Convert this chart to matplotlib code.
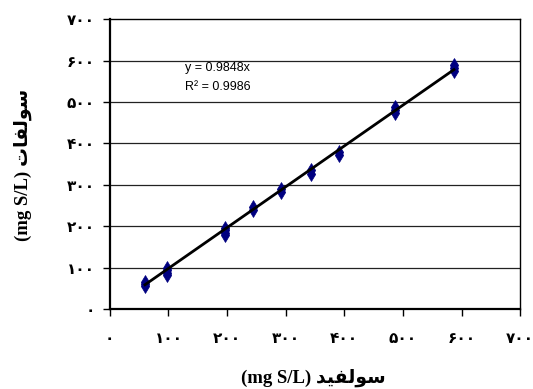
import matplotlib
matplotlib.use("Agg")
import matplotlib.pyplot as plt
import numpy as np

# Data (sulfide vs sulfate, mg S/L)
sulfide = [60, 60, 60, 97, 97, 97, 97, 196, 196, 196, 196, 244, 244,
           292, 292, 343, 343, 391, 391, 487, 487, 487, 587, 587, 587]
sulfate = [55, 60, 66, 82, 88, 95, 100, 178, 185, 192, 197, 240, 246,
           283, 289, 327, 335, 371, 379, 473, 480, 488, 575, 582, 588]
slope = 0.9848
r2 = 0.9986
tick_vals = [0, 100, 200, 300, 400, 500, 600, 700]

def fa_digits(n):
    return "".join(chr(0x06F0 + int(c)) for c in str(n))

tick_labels = [fa_digits(v) for v in tick_vals]

# Persian words written in visual order with presentation forms
xlabel_text = "(mg S/L) " + "\uFEAA\uFEF4\uFED4\uFEDF\uFEEE\uFEB3"   # سولفید
ylabel_text = "(mg S/L) " + "\uFE95\uFE8E\uFED4\uFEDF\uFEEE\uFEB3"   # سولفات

fig = plt.figure(figsize=(5.33, 3.89), dpi=100)
ax = fig.add_axes([0.206, 0.205, 0.770, 0.746])

ax.set_xlim(0, 700)
ax.set_ylim(0, 700)

for v in tick_vals[1:-1]:
    ax.axhline(v, color="#222222", lw=0.9, zorder=1)

ax.scatter(sulfide, sulfate, marker="d", s=50, color="#000080",
           edgecolors="#000080", linewidths=0.5, zorder=3)
xs = np.array([min(sulfide), max(sulfide)])
ax.plot(xs, slope * xs, color="black", lw=2, zorder=4)

fam = ["Liberation Serif", "DejaVu Sans"]
ax.set_xticks(tick_vals)
ax.set_yticks(tick_vals)
ax.set_xticklabels(tick_labels, fontsize=11, fontweight="bold", family=["DejaVu Sans"])
ax.set_yticklabels(tick_labels, fontsize=11, fontweight="bold", family=["DejaVu Sans"])
ax.tick_params(axis="x", direction="out", length=5, width=1, pad=11)
ax.tick_params(axis="y", direction="out", length=5, width=1, pad=6)

for s in ["left", "bottom"]:
    ax.spines[s].set_linewidth(1.6)
for s in ["top", "right"]:
    ax.spines[s].set_linewidth(1.0)

ax.text(128, 583, "y = 0.9848x", fontsize=9, family="Liberation Sans", va="center")
ax.text(128, 537, "R\u00b2 = " + f"{r2:.4f}", fontsize=9, family="Liberation Sans", va="center")

fig.text(0.588, 0.03, xlabel_text, fontsize=13.5, fontweight="bold", family=fam,
         ha="center", va="center")
fig.text(0.043, 0.576, ylabel_text, fontsize=13.5, fontweight="bold", family=fam,
         ha="center", va="center", rotation=90)

fig.savefig("out.png", dpi=100)
